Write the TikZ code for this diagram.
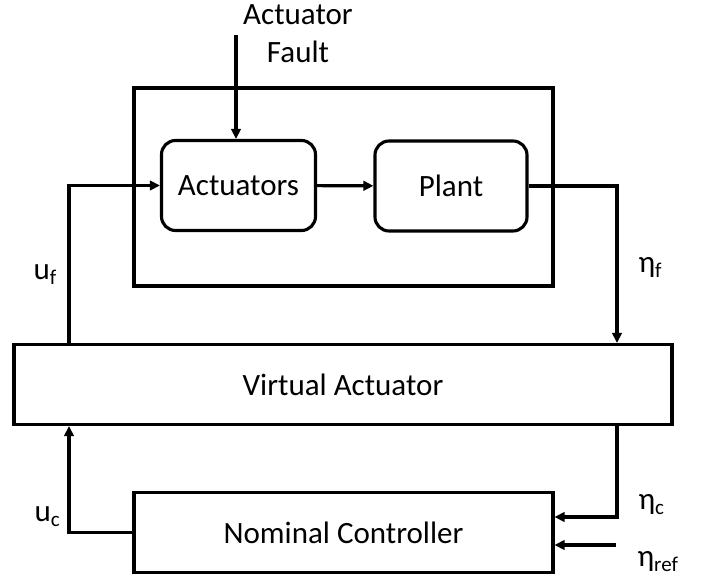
\documentclass[tikz,border=0pt]{standalone}
\usepackage{fontspec}
\setmainfont{Carlito}
\usetikzlibrary{arrows.meta}
% lowered subscript in upright text
\newcommand{\lowsub}[1]{\raisebox{-0.35ex}{\fontsize{21}{24}\selectfont #1}}
\begin{document}
\begin{tikzpicture}[x=1pt,y=-1pt,
  font=\fontsize{31}{38}\selectfont,
  line width=3.1pt,
  >={Triangle[length=10pt,width=9.5pt]},
  blockbox/.style={draw, rectangle, inner sep=0pt},
  roundbox/.style={draw, rectangle, rounded corners=14pt, inner sep=0pt,
    minimum width=154pt, minimum height=90pt},
  lbl/.style={anchor=base west, inner sep=0pt}]
  \fill[white] (0,0) rectangle (702,581);
  \useasboundingbox (0,0) rectangle (702,581);

  % blocks
  \node[blockbox, minimum width=419pt, minimum height=198pt] (sys) at (343.5,187) {};
  \node[roundbox] (act) at (238.5,185.5) {Actuators};
  \node[roundbox, minimum width=152pt] (plant) at (451,186) {Plant};
  \node[blockbox, minimum width=658pt, minimum height=80pt] (va) at (343,384.5) {Virtual Actuator};
  \node[blockbox, minimum width=419pt, minimum height=80pt] (nc) at (343.5,532.5) {Nominal Controller};
  \node[align=center, inner sep=0pt] (flt) at (298,34) {Actuator\\Fault};

  % helper coordinates for the vertical runs
  \coordinate (ux) at (69,0);
  \coordinate (ex) at (617,0);
  \coordinate (fs) at (236,35);
  \coordinate (rin) at (616,545);

  % connectors
  \draw[->] (fs) -- (act.north -| fs);
  \draw[->] (act) -- (plant);
  \draw[->] (plant.east) -| (va.north -| ex);
  \draw[->] (va.north -| ux) |- (act.west);
  \draw[->] (va.south -| ex) |- (nc.east |- 0,517);
  \draw[->] (rin) -- (nc.east |- rin);
  \draw[->] (nc.west) -| (va.south -| ux);

  % signal labels
  \node[lbl] (uf) at (32,279) {u\lowsub{f}};
  \node[lbl] (uc) at (33,521) {u\lowsub{c}};
  \node[lbl] (ef) at (637,272) {η\lowsub{f}};
  \node[lbl] (ec) at (637,509) {η\lowsub{c}};
  \node[lbl] (er) at (636,566) {η\lowsub{ref}};
\end{tikzpicture}
\end{document}
